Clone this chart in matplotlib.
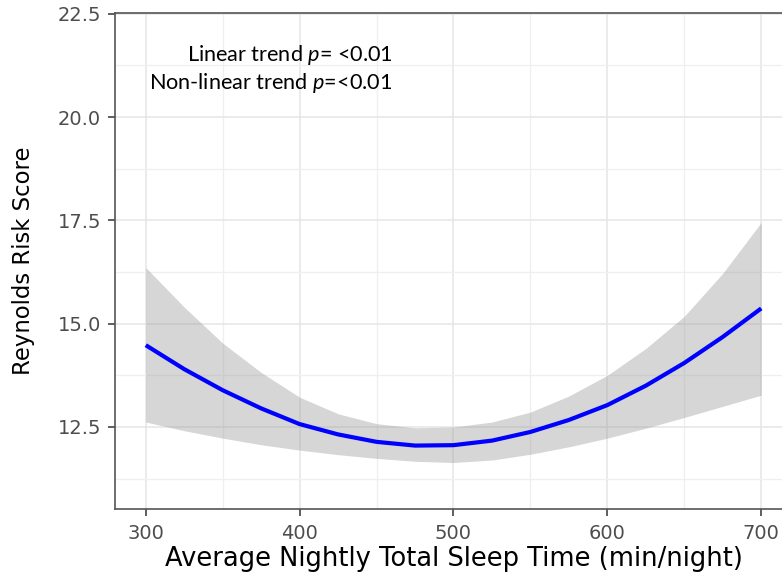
import matplotlib
matplotlib.use("Agg")
import matplotlib.pyplot as plt
from matplotlib.ticker import MultipleLocator

# Data
sleep_min = [300, 325, 350, 375, 400, 425, 450, 475, 500, 525, 550, 575, 600, 625, 650, 675, 700]
risk_fit = [14.48, 13.90, 13.39, 12.95, 12.57, 12.32, 12.14, 12.05, 12.06, 12.17, 12.38, 12.67,
            13.03, 13.50, 14.05, 14.68, 15.37]
ci_upper = [16.36, 15.40, 14.53, 13.82, 13.22, 12.82, 12.58, 12.48, 12.50, 12.62, 12.86, 13.25,
            13.75, 14.40, 15.18, 16.22, 17.45]
ci_lower = [12.62, 12.41, 12.23, 12.07, 11.94, 11.83, 11.74, 11.67, 11.64, 11.70, 11.84, 12.02,
            12.23, 12.47, 12.73, 13.00, 13.27]

x_ticks = [300, 400, 500, 600, 700]
y_ticks = [12.5, 15.0, 17.5, 20.0, 22.5]
annotations = ["Linear trend $\\it{p}$= <0.01", "Non-linear trend $\\it{p}$=<0.01"]

plt.rcParams["font.family"] = "DejaVu Sans"
plt.rcParams["mathtext.fontset"] = "custom"
plt.rcParams["mathtext.rm"] = "Lato"
plt.rcParams["mathtext.it"] = "Lato:italic"

fig = plt.figure(figsize=(7.82, 5.77), dpi=100)
# panel runs off the right edge, like the cropped original
ax = fig.add_axes([115 / 782, 68 / 577, 677 / 782, 496 / 577])

ax.fill_between(sleep_min, ci_lower, ci_upper, color="#999999", alpha=0.4, linewidth=0, zorder=2)
ax.plot(sleep_min, risk_fit, color="#0000ff", linewidth=3.0, zorder=3,
        solid_capstyle="butt", solid_joinstyle="round")

ax.set_xlim(280, 720)
ax.set_ylim(10.515, 22.52)
ax.set_xticks(x_ticks)
ax.set_yticks(y_ticks)
ax.set_yticklabels([f"{v:.1f}" for v in y_ticks])
ax.xaxis.set_minor_locator(MultipleLocator(50))
ax.yaxis.set_minor_locator(MultipleLocator(1.25))

ax.grid(which="major", color="#e5e5e5", linewidth=1.1, zorder=0)
ax.grid(which="minor", color="#efefef", linewidth=0.9, zorder=0)
ax.set_axisbelow(True)

ax.tick_params(which="major", length=5, width=1.1, color="#333333", labelcolor="#4d4d4d",
               labelsize=14)
ax.tick_params(axis="x", which="major", pad=6)
ax.tick_params(axis="y", which="major", pad=5)
ax.tick_params(which="minor", length=0)

for spine in ax.spines.values():
    spine.set_color("#555555")
    spine.set_linewidth(1.2)

ax.set_xlabel("Average Nightly Total Sleep Time (min/night)", fontsize=18.5, labelpad=2)
ax.set_ylabel("Reynolds Risk Score", fontsize=16.4, labelpad=16)

ax.text(460.5, 21.5, annotations[0], ha="right", va="center", fontsize=15.6, family="Lato")
ax.text(460.5, 20.83, annotations[1], ha="right", va="center", fontsize=15.6, family="Lato")

fig.savefig("out.png", dpi=100)
